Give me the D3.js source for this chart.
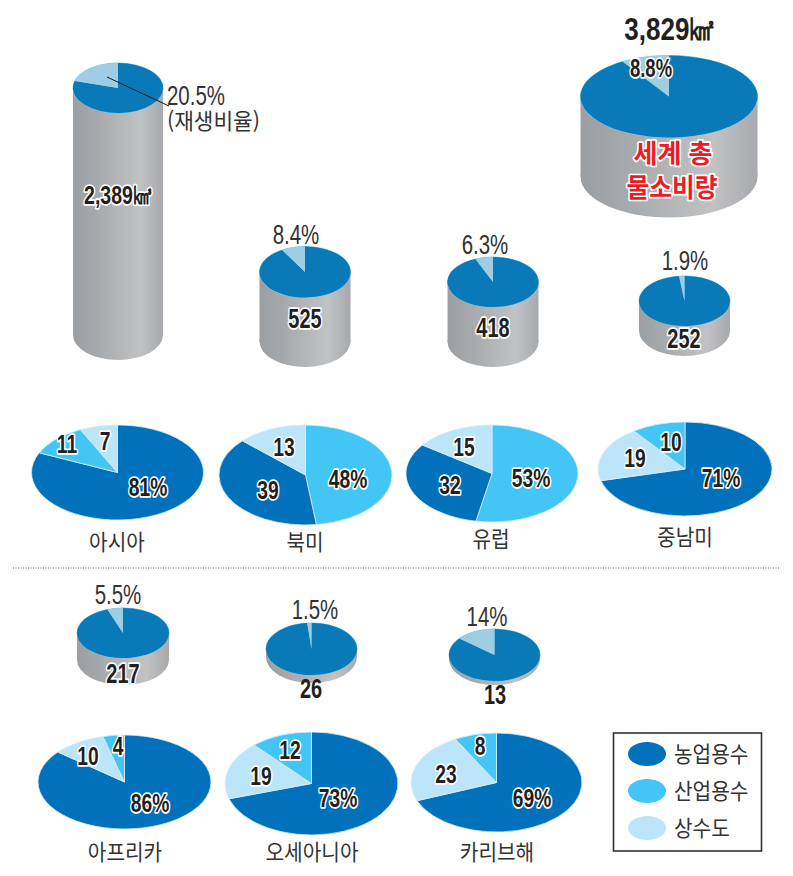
<!DOCTYPE html>
<html lang="ko">
<head>
<meta charset="utf-8">
<script src="https://cdn.jsdelivr.net/npm/d3@7"></script>
<style>
html,body{margin:0;padding:0;background:#fff}
svg{display:block}
</style>
</head>
<body>
<div id="chart"></div>
<script>
// Water use by region: consumption volume, renewable share and sector split
const regions = ["아시아", "북미", "유럽", "중남미", "아프리카", "오세아니아", "카리브해"];
const volumes = [2389, 525, 418, 252, 217, 26, 13];
const renewableShare = [20.5, 8.4, 6.3, 1.9, 5.5, 1.5, 14];
const renewableText = ["20.5%", "8.4%", "6.3%", "1.9%", "5.5%", "1.5%", "14%"];
const agricultural = [81, 39, 32, 71, 86, 73, 69];
const industrial = [11, 48, 53, 10, 4, 12, 8];
const domestic = [7, 13, 15, 19, 10, 19, 23];
const sliceOrder = [
  ["agri", "ind", "dom"], ["ind", "agri", "dom"], ["ind", "agri", "dom"], ["agri", "dom", "ind"],
  ["agri", "dom", "ind"], ["agri", "dom", "ind"], ["agri", "dom", "ind"]
];
const worldVolume = 3829;
const worldRenewable = 8.8;
const legendLabels = ["농업용수", "산업용수", "상수도"];

// Page layout, kept apart from the values
const width = 793, height = 876;
const cylinderPlace = [
  {cx:118, cy:88, rx:45, ry:25}, {cx:305, cy:272, rx:45.5, ry:25.5}, {cx:493, cy:282, rx:45.5, ry:25},
  {cx:684.5, cy:301, rx:45.5, ry:25}, {cx:123, cy:633, rx:46, ry:25}, {cx:311.5, cy:649, rx:45.5, ry:26},
  {cx:494.5, cy:655, rx:45.5, ry:26}
];
const cylinderValueAt = [null, [305,319], [493,328], [684,339], [123,674], [311,689], [495,695]];
const sharePlace = [null, [296,234], [485,244], [685,260], [118,594], [315,609], [487,616]];
const piePlace = [
  {cx:117.5, cy:472.5, rx:86, ry:47.5}, {cx:305.5, cy:475, rx:86.5, ry:50}, {cx:492, cy:473.5, rx:86, ry:48.5},
  {cx:685, cy:469, rx:87, ry:47}, {cx:124.5, cy:782, rx:86.5, ry:47}, {cx:311.5, cy:783.5, rx:86.5, ry:51.5},
  {cx:496.5, cy:782.5, rx:85.5, ry:49.5}
];
const pieLabelAt = [
  {agri:[148,487], ind:[67,444], dom:[105,441]}, {ind:[348,479], agri:[268,490], dom:[284,447]},
  {ind:[531,478], agri:[450,485], dom:[464,447]}, {agri:[721,478], dom:[635,458], ind:[671,442]},
  {agri:[150,803], dom:[88,756], ind:[118,746]}, {agri:[338,798], dom:[261,776], ind:[290,750]},
  {agri:[532,798], dom:[446,774], ind:[480,746]}
];
const regionLabelAt = [[117,542],[305,542],[491,539],[685,537],[125,852],[312,852],[497,852]];

const sectorColor = {agri:"#0071ba", ind:"#43c6f6", dom:"#bde5f9"};
const topBlue = "#0a79b8", topLight = "#9fcde4";

const narrow = "'Liberation Sans',sans-serif";
const hangul = "'Noto Sans CJK KR','Noto Sans',sans-serif";

// Cylinder height follows volume through a stepped scale; the wider world drum has its own
const heightScale = d3.scaleLinear()
  .domain([0, 13, 26, 217, 252, 418, 525, 2389])
  .range([0, 4, 8, 27, 30, 60, 69.5, 247]);
const worldHeightScale = d3.scaleLinear().domain([0, worldVolume]).range([0, 80]);

const svg = d3.select("#chart").append("svg").attr("width", width).attr("height", height)
  .attr("viewBox", `0 0 ${width} ${height}`);

const grad = svg.append("defs").append("linearGradient").attr("id", "drum");
[[0,"#9c9fa2"],[0.25,"#a6a9ab"],[0.5,"#b3b5b7"],[0.75,"#c0c2c4"],[1,"#a7a9ac"]].forEach(([o,c]) =>
  grad.append("stop").attr("offset", o).attr("stop-color", c));

function label(x, y, str, o = {}) {
  const t = svg.append("text")
    .attr("transform", `translate(${x},${y}) scale(${o.sx || 1},1)`)
    .attr("text-anchor", o.anchor || "middle")
    .attr("dy", o.dy === undefined ? "0.35em" : o.dy)
    .attr("font-family", o.family || narrow)
    .attr("font-size", o.size || 22)
    .attr("font-weight", o.weight || 400)
    .attr("fill", o.fill || "#231f20")
    .text(str);
  if (o.halo) t.attr("stroke", o.halo).attr("stroke-width", o.haloWidth || 3.5)
    .attr("stroke-linejoin", "round").attr("paint-order", "stroke");
  return t;
}

const arc = d3.arc().innerRadius(0);

function drum(p, h, share, rim) {
  const g = svg.append("g");
  g.append("rect").attr("x", p.cx - p.rx).attr("y", p.cy).attr("width", p.rx * 2).attr("height", h)
    .attr("fill", "url(#drum)");
  g.append("ellipse").attr("cx", p.cx).attr("cy", p.cy + h).attr("rx", p.rx).attr("ry", p.ry)
    .attr("fill", "url(#drum)");
  g.append("ellipse").attr("cx", p.cx).attr("cy", p.cy).attr("rx", p.rx + 0.5).attr("ry", p.ry + 0.5)
    .attr("fill", rim);
  const slices = d3.pie().sort(null)([100 - share, share]);
  g.append("g").attr("transform", `translate(${p.cx},${p.cy}) scale(1,${p.ry / p.rx})`)
    .selectAll("path").data(slices).join("path")
    .attr("d", d => arc.outerRadius(p.rx)(d))
    .attr("fill", (d, i) => i ? topLight : topBlue);
}

// Volume drums topped by the renewable share
regions.forEach((r, i) => drum(cylinderPlace[i], heightScale(volumes[i]), renewableShare[i], "#6fc6ea"));
const worldPlace = {cx:669, cy:96.5, rx:88.5, ry:41};
drum(worldPlace, worldHeightScale(worldVolume), worldRenewable, "#7ccbec");

// Sector split pies
regions.forEach((r, i) => {
  const p = piePlace[i];
  const values = {agri: agricultural[i], ind: industrial[i], dom: domestic[i]};
  const order = sliceOrder[i];
  const slices = d3.pie().sort(null).value(k => values[k])(order);
  svg.append("g").attr("transform", `translate(${p.cx},${p.cy}) scale(1,${p.ry / p.rx})`)
    .selectAll("path").data(slices).join("path")
    .attr("d", d => arc.outerRadius(p.rx)(d))
    .attr("fill", d => sectorColor[d.data])
    .attr("stroke", "#d8eefa").attr("stroke-width", 0.8).attr("vector-effect", "non-scaling-stroke");
  const top = d3.max(order, k => values[k]);
  order.forEach(k => {
    const [x, y] = pieLabelAt[i][k];
    label(x, y, values[k] === top ? values[k] + "%" : String(values[k]),
      {size: 26, weight: 700, halo: "#fff", haloWidth: 3.6, sx: 0.74});
  });
  label(regionLabelAt[i][0], regionLabelAt[i][1], r, {family: hangul, size: 22, fill: "#333", sx: 0.92});
});

// Leader line and renewable caption for Asia
svg.append("line").attr("x1", 107).attr("y1", 77).attr("x2", 169).attr("y2", 106)
  .attr("stroke", "#1a1a1a").attr("stroke-width", 1);
label(167, 105, renewableText[0], {anchor: "start", dy: 0, size: 28, fill: "#333", sx: 0.73});
label(167, 129, "(재생비율)", {anchor: "start", dy: 0, family: hangul, size: 22, fill: "#333", sx: 0.97});

regions.forEach((r, i) => {
  if (sharePlace[i]) label(sharePlace[i][0], sharePlace[i][1], renewableText[i], {size: 28, fill: "#333", sx: 0.73});
  if (cylinderValueAt[i]) {
    const isFlat = volumes[i] < 100;
    label(cylinderValueAt[i][0], cylinderValueAt[i][1], String(volumes[i]),
      {size: 27, weight: 700, halo: isFlat ? null : "#fff", haloWidth: 3.6, sx: 0.74});
  }
});
label(118, 195, d3.format(",")(volumes[0]) + "㎦", {size: 25, weight: 700, halo: "#fff", sx: 0.78});

// World total
label(670, 29, d3.format(",")(worldVolume) + "㎢", {size: 31, weight: 700, sx: 0.84});
label(651, 68, worldRenewable + "%", {size: 25, weight: 700, halo: "#fff", sx: 0.74});
label(673, 154, "세계 총", {family: hangul, size: 26, weight: 700, fill: "#ed1c24", halo: "#fff", haloWidth: 3.4});
label(672, 188, "물소비량", {family: hangul, size: 26, weight: 700, fill: "#ed1c24", halo: "#fff", haloWidth: 3.4, sx: 0.95});

// Divider between the two rows of regions
svg.append("line").attr("x1", 13).attr("x2", 780).attr("y1", 568).attr("y2", 568)
  .attr("stroke", "#666").attr("stroke-width", 1).attr("stroke-dasharray", "1 1.5");

// Legend
svg.append("rect").attr("x", 613.5).attr("y", 733).attr("width", 148).attr("height", 118)
  .attr("fill", "#fff").attr("stroke", "#333").attr("stroke-width", 1.6);
const legendKeys = ["agri", "ind", "dom"];
const legendY = d3.scalePoint().domain(legendKeys).range([754, 828]);
legendKeys.forEach((k, i) => {
  svg.append("ellipse").attr("cx", 647).attr("cy", legendY(k)).attr("rx", 19).attr("ry", 12)
    .attr("fill", sectorColor[k]);
  label(674, legendY(k), legendLabels[i], {anchor: "start", family: hangul, size: 22, fill: "#333", sx: 0.92});
});
</script>
</body>
</html>
